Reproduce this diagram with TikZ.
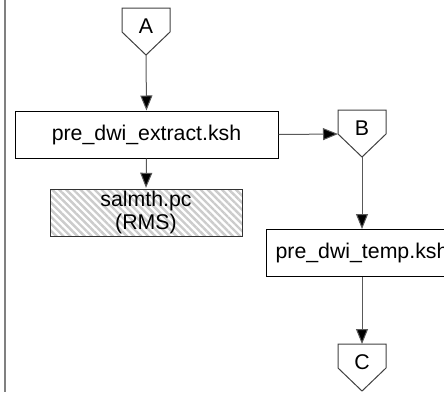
\documentclass[tikz,border=0pt]{standalone}
\usepackage{fontspec}
\setmainfont{Liberation Sans}
\usetikzlibrary{arrows.meta,patterns.meta}
\tikzset{
  proc/.style={rectangle,draw=black,line width=1pt,inner sep=0pt,minimum height=47pt,font=\fontsize{21.3}{23}\selectfont},
  store/.style={proc,align=center,draw=black!80,preaction={fill=white},pattern={Lines[angle=-45,distance=5pt,line width=2.4pt]},pattern color=gray!40},
  conn/.style={draw=black!75,line width=1pt},
  conntext/.style={inner sep=0pt,font=\fontsize{21.3}{23}\selectfont},
  flow/.style={-{Triangle[width=12pt,length=15pt,fill=black]},draw=black!65,line width=1pt}
}
% off-page connector: name, x, top y, label
\newcommand{\offpage}[4]{%
  \draw[conn] (#2-24,#3) -- (#2+24,#3) -- (#2+24,#3+24) -- (#2,#3+47) -- (#2-24,#3+24) -- cycle;
  \node[conntext] (#1) at (#2,#3+18) {#4};
  \coordinate (#1-top) at (#2,#3);
  \coordinate (#1-tip) at (#2,#3+47);
  \coordinate (#1-left) at (#2-24,#3+24);
}
\begin{document}
\begin{tikzpicture}[x=1pt,y=-1pt]
\useasboundingbox (0,0) rectangle (444,392);
\clip (0,0) rectangle (444,392);
\draw[black!50,line width=2pt] (4.5,0) -- (4.5,392);
%
\offpage{A}{146}{8}{A}
\offpage{B}{362}{110}{B}
\offpage{C}{362}{344}{C}
%
\node (extract) [proc,minimum width=263pt] at (146.5,134.5) {pre\_dwi\_extract.ksh};
\node (salmth) [store,minimum width=192pt] at (146,212.5) {salmth.pc\\(RMS)};
\node (temp) [proc,minimum width=192pt] at (362,253) {pre\_dwi\_temp.ksh};
%
\draw[flow] (A-tip) -- (extract.north);
\draw[flow] (extract.south) -- (salmth.north);
\draw[flow] (extract.east) -- (B-left);
\draw[flow] (B-tip) -- (temp.north);
\draw[flow] (temp.south) -- (C-top);
\end{tikzpicture}
\end{document}
